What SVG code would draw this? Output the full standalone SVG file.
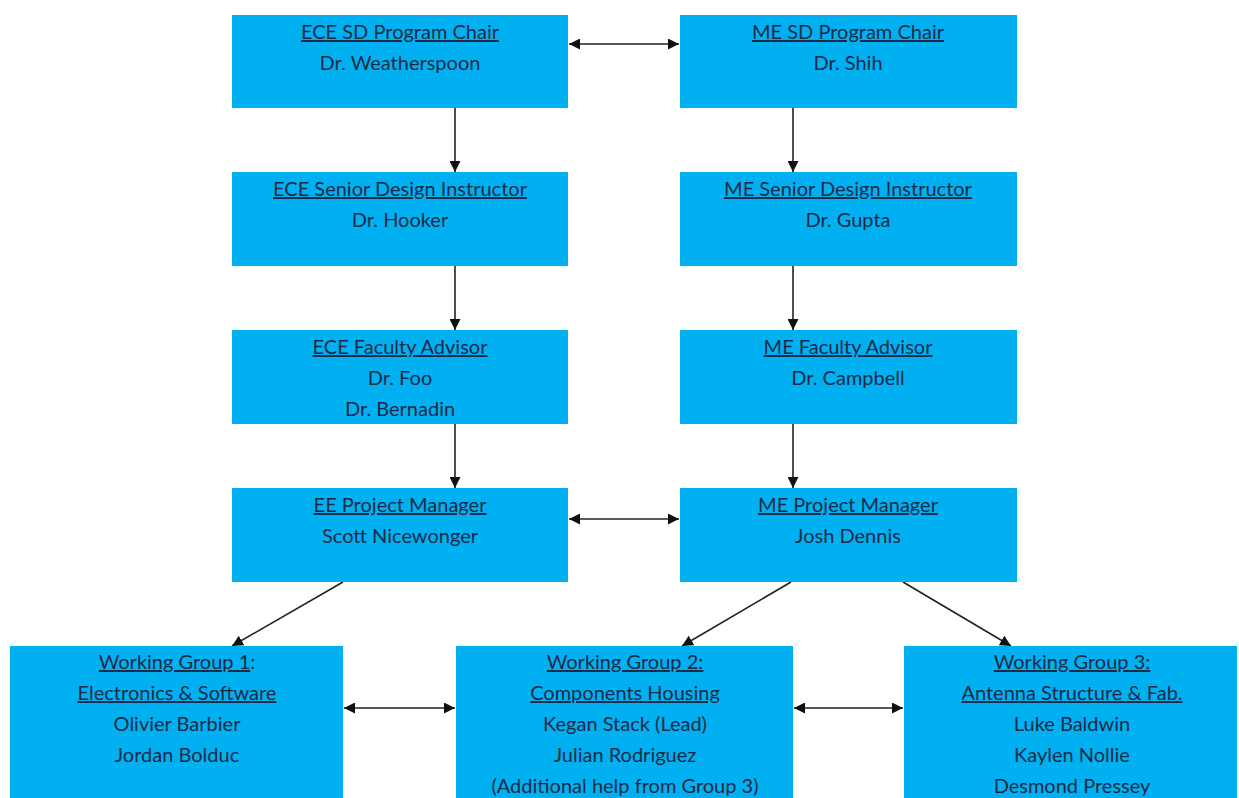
<svg xmlns="http://www.w3.org/2000/svg" width="1239" height="798" viewBox="0 0 1239 798">
<style>
.box{fill:#00B0F0;}
.t{font-family:Lato,"Liberation Sans",sans-serif;font-size:20px;fill:#1a2b48;text-anchor:middle;}
.u{text-decoration:underline;}
.c{stroke:#222;stroke-width:1.6;fill:none;}
</style>
<defs>
<marker id="ah" viewBox="0 0 10 10" refX="10" refY="5" markerWidth="11" markerHeight="11" markerUnits="userSpaceOnUse" orient="auto-start-reverse">
<path d="M0,0 L10,5 L0,10 z" fill="#111"/>
</marker>
</defs>
<rect width="1239" height="798" fill="#fff"/>
<g id="connectors">
<line class="c" x1="569" y1="44" x2="679" y2="44" marker-start="url(#ah)" marker-end="url(#ah)"/>
<line class="c" x1="455" y1="108" x2="455" y2="172" marker-end="url(#ah)"/>
<line class="c" x1="793" y1="108" x2="793" y2="172" marker-end="url(#ah)"/>
<line class="c" x1="455" y1="266" x2="455" y2="330" marker-end="url(#ah)"/>
<line class="c" x1="793" y1="266" x2="793" y2="330" marker-end="url(#ah)"/>
<line class="c" x1="455" y1="424" x2="455" y2="488" marker-end="url(#ah)"/>
<line class="c" x1="793" y1="424" x2="793" y2="488" marker-end="url(#ah)"/>
<line class="c" x1="569" y1="519" x2="679" y2="519" marker-start="url(#ah)" marker-end="url(#ah)"/>
<line class="c" x1="343" y1="582" x2="232" y2="646" marker-end="url(#ah)"/>
<line class="c" x1="791" y1="582" x2="682" y2="646" marker-end="url(#ah)"/>
<line class="c" x1="903" y1="582" x2="1011" y2="646" marker-end="url(#ah)"/>
<line class="c" x1="344" y1="708" x2="455" y2="708" marker-start="url(#ah)" marker-end="url(#ah)"/>
<line class="c" x1="794" y1="708" x2="903" y2="708" marker-start="url(#ah)" marker-end="url(#ah)"/>
</g>
<g id="ece-chair">
<rect class="box" x="232" y="15" width="336" height="93"/>
<text class="t u" x="400" y="39">ECE SD Program Chair</text>
<text class="t" x="400" y="70">Dr. Weatherspoon</text>
</g>
<g id="me-chair">
<rect class="box" x="680" y="15" width="337" height="93"/>
<text class="t u" x="848" y="39">ME SD Program Chair</text>
<text class="t" x="848" y="70">Dr. Shih</text>
</g>
<g id="ece-instructor">
<rect class="box" x="232" y="172" width="336" height="94"/>
<text class="t u" x="400" y="196">ECE Senior Design Instructor</text>
<text class="t" x="400" y="227">Dr. Hooker</text>
</g>
<g id="me-instructor">
<rect class="box" x="680" y="172" width="337" height="94"/>
<text class="t u" x="848" y="196">ME Senior Design Instructor</text>
<text class="t" x="848" y="227">Dr. Gupta</text>
</g>
<g id="ece-advisor">
<rect class="box" x="232" y="330" width="336" height="94"/>
<text class="t u" x="400" y="354">ECE Faculty Advisor</text>
<text class="t" x="400" y="385">Dr. Foo</text>
<text class="t" x="400" y="416">Dr. Bernadin</text>
</g>
<g id="me-advisor">
<rect class="box" x="680" y="330" width="337" height="94"/>
<text class="t u" x="848" y="354">ME Faculty Advisor</text>
<text class="t" x="848" y="385">Dr. Campbell</text>
</g>
<g id="ee-pm">
<rect class="box" x="232" y="488" width="336" height="94"/>
<text class="t u" x="400" y="512">EE Project Manager</text>
<text class="t" x="400" y="543">Scott Nicewonger</text>
</g>
<g id="me-pm">
<rect class="box" x="680" y="488" width="337" height="94"/>
<text class="t u" x="848" y="512">ME Project Manager</text>
<text class="t" x="848" y="543">Josh Dennis</text>
</g>
<g id="group1">
<rect class="box" x="10" y="646" width="333" height="160"/>
<text class="t" x="177" y="669"><tspan class="u">Working Group 1</tspan>:</text>
<text class="t u" x="177" y="700">Electronics &amp; Software</text>
<text class="t" x="177" y="731">Olivier Barbier</text>
<text class="t" x="177" y="762">Jordan Bolduc</text>
</g>
<g id="group2">
<rect class="box" x="456" y="646" width="337" height="160"/>
<text class="t u" x="625" y="669">Working Group 2:</text>
<text class="t u" x="625" y="700">Components Housing</text>
<text class="t" x="625" y="731">Kegan Stack (Lead)</text>
<text class="t" x="625" y="762">Julian Rodriguez</text>
<text class="t" x="625" y="793">(Additional help from Group 3)</text>
</g>
<g id="group3">
<rect class="box" x="904" y="646" width="333" height="160"/>
<text class="t u" x="1072" y="669">Working Group 3:</text>
<text class="t u" x="1072" y="700">Antenna Structure &amp; Fab.</text>
<text class="t" x="1072" y="731">Luke Baldwin</text>
<text class="t" x="1072" y="762">Kaylen Nollie</text>
<text class="t" x="1072" y="793">Desmond Pressey</text>
</g>
</svg>
